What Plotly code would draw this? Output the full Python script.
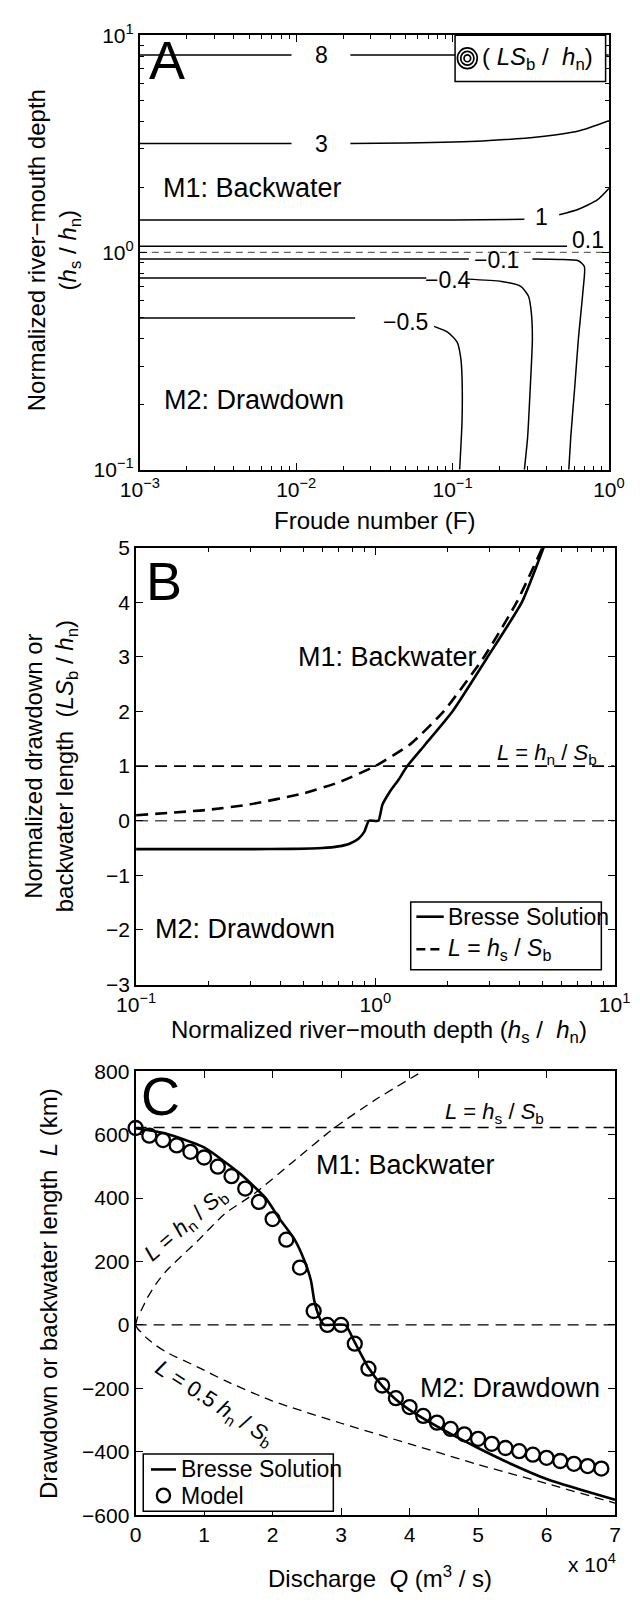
import math
import plotly.graph_objects as go

FONT = "Liberation Sans, Arial, Helvetica, sans-serif"
W, H = 640, 1603

# ---------------- Panel A : contours of LS_b / h_n ----------------
froude_c8 = [0.001, 0.00933, None, 0.0222, 1.0]
depth_c8 = [8.1, 8.1, None, 8.1, 8.1]
froude_c3 = [0.001, 0.00933, None, 0.0222, 0.0498, 0.155, 0.362, 0.638, 1.0]
depth_c3 = [3.17, 3.17, None, 3.17, 3.19, 3.26, 3.41, 3.62, 4.04]
froude_c1 = [0.001, 0.1, 0.288, None, 0.481, 0.638, 0.847, 1.0]
depth_c1 = [1.41, 1.41, 1.42, None, 1.49, 1.58, 1.75, 1.97]
froude_c01 = [0.001, 0.54]
depth_c01 = [1.067, 1.067]
froude_cm01 = [0.001, 0.127, None, 0.324, 0.481, 0.638, 0.697, 0.684, 0.638, 0.604, 0.570, 0.554]
depth_cm01 = [0.932, 0.932, None, 0.932, 0.929, 0.916, 0.861, 0.675, 0.400, 0.238, 0.141, 0.1]
froude_cm04 = [0.001, 0.0679, None, 0.123, 0.206, 0.273, 0.306, 0.319, 0.324, 0.314, 0.302, 0.288]
depth_cm04 = [0.762, 0.762, None, 0.754, 0.736, 0.698, 0.629, 0.529, 0.400, 0.238, 0.141, 0.1]
froude_cm05 = [0.001, 0.0238, None, 0.0762, 0.0929, 0.107, 0.113, 0.115, 0.115, 0.111]
depth_cm05 = [0.499, 0.499, None, 0.457, 0.430, 0.387, 0.325, 0.264, 0.168, 0.1]

contour_label_text = ["8", "3", "1", "0.1", "−0.1", "−0.4", "−0.5"]
contour_label_F = [0.0145, 0.0145, 0.372, 0.736, 0.191, 0.094, 0.0497]
contour_label_h = [8.1, 3.17, 1.45, 1.137, 0.923, 0.749, 0.478]

# ---------------- Panel B ----------------
depth_ratio_hs = [0.1, 0.2, 0.3, 0.5, 0.7, 1.0, 1.4, 1.93, 2.85, 3.9, 5.0]
norm_len_hs = [0.1, 0.2, 0.3, 0.5, 0.7, 1.0, 1.4, 2.0, 3.0, 4.0, 5.0]
depth_ratio_bresse = [0.1, 0.3, 0.45, 0.6, 0.7, 0.78, 0.85, 0.9, 0.94, 1.03, 1.07, 1.15,
                      1.25, 1.36, 1.62, 2.1, 2.95, 4.1, 5.05]
norm_len_bresse = [-0.52, -0.52, -0.515, -0.5, -0.47, -0.42, -0.33, -0.2, 0.0, 0.0, 0.29, 0.53,
                   0.75, 1.0, 1.4, 2.0, 3.0, 4.0, 5.0]

# ---------------- Panel C ----------------
Q_model = [0, 2000, 4000, 6000, 8000, 10000, 12000, 14000, 16000, 18000, 20000, 22000,
           24000, 26000, 28000, 30000, 32000, 34000, 36000, 38000, 40000, 42000, 44000,
           46000, 48000, 50000, 52000, 54000, 56000, 58000, 60000, 62000, 64000, 66000, 68000]
L_model = [621, 597, 583, 566, 546, 528, 499, 469, 430, 388, 334, 269, 181, 44, 0, 0,
           -59, -138, -191, -231, -259, -287, -308, -328, -345, -359, -375, -388, -398,
           -409, -419, -429, -438, -445, -453]
Q_bresse = [0, 4500, 10000, 15200, 19000, 21000, 23200, 24700, 25600, 26100, 26700, 27200,
            27600, 30600, 32000, 34000, 36000, 38000, 40000, 45000, 50000, 55000, 60000,
            65000, 70000]
L_bresse = [620, 603, 560, 478, 400, 335, 270, 200, 140, 75, 31, 8, 0, 0, -55, -135, -192,
            -235, -268, -332, -388, -440, -486, -520, -551]
Q_hn = [0, 300, 800, 1700, 3000, 4500, 9000, 13000, 17400, 23000, 29000, 35000, 41900]
L_hn = [0, 25, 45, 85, 130, 171, 264, 350, 415, 515, 621, 710, 800]
Q_half_hn = [0, 300, 800, 1700, 3000, 4500, 9000, 13000, 20000, 30000, 40000, 50000, 60000, 70000]
L_half_hn = [0, -12, -23, -43, -65, -86, -132, -175, -240, -310, -375, -440, -500, -562]
Q_hs = [0, 70000]
L_hs = [623, 623]
Q_zero = [0, 70000]
L_zero = [0, 0]


def px(x):
    return x / W


def py(y):
    return 1 - y / H


fig = go.Figure()
BLACK = "black"

# ---- Panel A traces
fig.add_trace(go.Scatter(x=[0.001, 1.0], y=[1.0, 1.0], mode="lines",
                         line=dict(color="#666666", width=1.3, dash="7px,5px"),
                         xaxis="x", yaxis="y", showlegend=False))
for fx, hy in [(froude_c8, depth_c8), (froude_c3, depth_c3), (froude_c1, depth_c1),
               (froude_c01, depth_c01), (froude_cm01, depth_cm01),
               (froude_cm04, depth_cm04), (froude_cm05, depth_cm05)]:
    fig.add_trace(go.Scatter(x=fx, y=hy, mode="lines", connectgaps=False,
                             line=dict(color=BLACK, width=1.5, shape="spline", smoothing=0.6),
                             xaxis="x", yaxis="y", showlegend=False))

# ---- Panel B traces
fig.add_trace(go.Scatter(x=[0.1, 10], y=[0, 0], mode="lines",
                         line=dict(color="#555555", width=1.5, dash="12px,7px"),
                         xaxis="x2", yaxis="y2", showlegend=False))
fig.add_trace(go.Scatter(x=[0.1, 10], y=[1, 1], mode="lines",
                         line=dict(color=BLACK, width=1.6, dash="12px,7px"),
                         xaxis="x2", yaxis="y2", showlegend=False))
fig.add_trace(go.Scatter(x=depth_ratio_hs, y=norm_len_hs, mode="lines",
                         line=dict(color=BLACK, width=2.6, dash="12px,7px", shape="spline", smoothing=0.5),
                         xaxis="x2", yaxis="y2", showlegend=False))
fig.add_trace(go.Scatter(x=depth_ratio_bresse, y=norm_len_bresse, mode="lines",
                         line=dict(color=BLACK, width=2.6, shape="spline", smoothing=0.5),
                         xaxis="x2", yaxis="y2", showlegend=False))

# ---- Panel C traces
fig.add_trace(go.Scatter(x=Q_zero, y=L_zero, mode="lines",
                         line=dict(color=BLACK, width=1.2, dash="11px,7px"),
                         xaxis="x3", yaxis="y3", showlegend=False))
fig.add_trace(go.Scatter(x=Q_hs, y=L_hs, mode="lines",
                         line=dict(color=BLACK, width=1.5, dash="11px,7px"),
                         xaxis="x3", yaxis="y3", showlegend=False))
fig.add_trace(go.Scatter(x=Q_hn, y=L_hn, mode="lines",
                         line=dict(color=BLACK, width=1.3, dash="9px,6px", shape="spline", smoothing=0.6),
                         xaxis="x3", yaxis="y3", showlegend=False))
fig.add_trace(go.Scatter(x=Q_half_hn, y=L_half_hn, mode="lines",
                         line=dict(color=BLACK, width=1.3, dash="9px,6px", shape="spline", smoothing=0.6),
                         xaxis="x3", yaxis="y3", showlegend=False))
fig.add_trace(go.Scatter(x=Q_bresse, y=L_bresse, mode="lines",
                         line=dict(color=BLACK, width=2.6, shape="spline", smoothing=0.5),
                         xaxis="x3", yaxis="y3", showlegend=False))
fig.add_trace(go.Scatter(x=Q_model, y=L_model, mode="markers",
                         marker=dict(symbol="circle-open", size=14, color=BLACK,
                                     line=dict(width=2.3, color=BLACK)),
                         cliponaxis=False,
                         xaxis="x3", yaxis="y3", showlegend=False))


def sup(e):
    return "10<sup>" + e + "</sup>"


def minor_log(lo, hi):
    return [k * 10 ** e for e in range(lo, hi) for k in range(2, 10)]


axis_common = dict(showgrid=False, zeroline=False, showline=True, linewidth=2,
                   linecolor=BLACK, mirror="allticks", ticks="inside", ticklen=7,
                   tickwidth=1.3, tickcolor=BLACK,
                   tickfont=dict(family=FONT, size=21, color=BLACK))
minor_style = dict(ticks="inside", ticklen=4, tickwidth=1, tickcolor=BLACK, showgrid=False)

layout = dict(
    width=W, height=H, margin=dict(l=0, r=0, t=0, b=0),
    paper_bgcolor="white", plot_bgcolor="white", showlegend=False,
    font=dict(family=FONT, color=BLACK),
    xaxis=dict(domain=[px(127), px(624)], anchor="y", type="log", range=[-3, 0],
               tickmode="array", tickvals=[0.001, 0.01, 0.1, 1],
               ticktext=[sup("−3"), sup("−2"), sup("−1"), sup("0")],
               minor=dict(tickmode="array", tickvals=minor_log(-3, 0), **minor_style), **axis_common),
    yaxis=dict(domain=[py(463), py(21.5)], anchor="x", type="log", range=[-1, 1],
               tickmode="array", tickvals=[0.1, 1, 10],
               ticktext=[sup("−1"), sup("0"), sup("1")],
               minor=dict(tickmode="array", tickvals=minor_log(-1, 1), **minor_style), **axis_common),
    xaxis2=dict(domain=[px(123), px(630)], anchor="y2", type="log", range=[-1, 1],
                tickmode="array", tickvals=[0.1, 1, 10],
                ticktext=[sup("−1"), sup("0"), sup("1")],
                minor=dict(tickmode="array", tickvals=minor_log(-1, 1), **minor_style), **axis_common),
    yaxis2=dict(domain=[py(986), py(542)], anchor="x2", range=[-3, 5],
                tickmode="array", tickvals=[-3, -2, -1, 0, 1, 2, 3, 4, 5], **axis_common),
    xaxis3=dict(domain=[px(122.5), px(630.5)], anchor="y3", range=[0, 70000],
                tickmode="array", tickvals=[0, 10000, 20000, 30000, 40000, 50000, 60000, 70000],
                ticktext=["0", "1", "2", "3", "4", "5", "6", "7"], **axis_common),
    yaxis3=dict(domain=[py(1525), py(1074)], anchor="x3", range=[-600, 800],
                tickmode="array", tickvals=[-600, -400, -200, 0, 200, 400, 600, 800], **axis_common),
)
fig.update_layout(**layout)

ann = []
shapes = []


def text(t, x, y, size, angle=0, xanchor="center", xref="paper", yref="paper"):
    ann.append(dict(text=t, x=x, y=y, xref=xref, yref=yref, showarrow=False,
                    textangle=angle, xanchor=xanchor, yanchor="middle",
                    font=dict(family=FONT, size=size, color=BLACK)))


# contour labels (data coordinates, log axes use log10)
for t, f, h in zip(contour_label_text, contour_label_F, contour_label_h):
    text(t, math.log10(f), math.log10(h), 23, xref="x", yref="y")

# panel letters
text("A", px(156), py(47), 54)
text("B", px(153), py(576), 54)
text("C", px(149), py(1099), 54)

# region labels
text("M1: Backwater", px(246), py(177), 27)
text("M2: Drawdown", px(248), py(392), 27)
text("M1: Backwater", px(389), py(653), 27)
text("M2: Drawdown", px(238), py(930), 27)
text("M1: Backwater", px(408), py(1169), 27)
text("M2: Drawdown", px(519), py(1396), 27)

# axis titles
text("Froude number (F)", px(376), py(515), 24)
text("Normalized river−mouth depth<br>(<i>h</i><sub>s</sub> / <i>h</i><sub>n</sub>)",
     px(36), py(240), 24, angle=-90)
text("Normalized drawdown or<br>backwater length  (<i>LS</i><sub>b</sub> / <i>h</i><sub>n</sub>)",
     px(33), py(764), 24, angle=-90)
text("Normalized river−mouth depth (<i>h</i><sub>s</sub> /  <i>h</i><sub>n</sub>)",
     px(380), py(1034), 24)
text("Drawdown or backwater length  <i>L</i> (km)", px(30), py(1300), 24, angle=-90)
text("Discharge  <i>Q</i> (m<sup>3</sup> / s)", px(381), py(1588), 24)
text("x 10<sup>4</sup>", px(606), py(1574), 21)

# line labels
text("<i>L</i> = <i>h</i><sub>n</sub> / <i>S</i><sub>b</sub>", px(558), py(752), 22)
text("<i>L</i> = <i>h</i><sub>s</sub> / <i>S</i><sub>b</sub>", px(503), py(1116), 22)
text("<i>L</i> = <i>h</i><sub>n</sub> / <i>S</i><sub>b</sub>", px(176), py(1230), 22, angle=-41)
text("<i>L</i> = 0.5 <i>h</i><sub>n</sub> / <i>S</i><sub>b</sub>", px(206), py(1412), 22, angle=33)

# legend A
shapes.append(dict(type="rect", xref="paper", yref="paper", x0=px(461), x1=px(620.5),
                   y0=py(68.5), y1=py(21.7), line=dict(color=BLACK, width=1.5),
                   fillcolor="white", layer="above"))
for r in [10.5, 7, 3.5]:
    shapes.append(dict(type="circle", xref="paper", yref="paper",
                       x0=px(474 - r), x1=px(474 + r), y0=py(45 + r), y1=py(45 - r),
                       line=dict(color=BLACK, width=1.7), layer="above"))
text("( <i>LS</i><sub>b</sub> /  <i>h</i><sub>n</sub>)", px(487), py(45), 24, xanchor="left")

# legend B
shapes.append(dict(type="rect", xref="paper", yref="paper", x0=px(414), x1=px(616),
                   y0=py(971), y1=py(902), line=dict(color=BLACK, width=1.5),
                   fillcolor="white", layer="above"))
shapes.append(dict(type="line", xref="paper", yref="paper", x0=px(420), x1=px(449),
                   y0=py(917), y1=py(917), line=dict(color=BLACK, width=2.6), layer="above"))
shapes.append(dict(type="line", xref="paper", yref="paper", x0=px(420), x1=px(449),
                   y0=py(950), y1=py(950), line=dict(color=BLACK, width=2.6, dash="9px,5px"),
                   layer="above"))
text("Bresse Solution", px(451), py(917), 23, xanchor="left")
text("<i>L</i> = <i>h</i><sub>s</sub> / <i>S</i><sub>b</sub>", px(451), py(950), 23, xanchor="left")

# legend C
shapes.append(dict(type="rect", xref="paper", yref="paper", x0=px(130.6), x1=px(332),
                   y0=py(1521), y1=py(1462.7), line=dict(color=BLACK, width=1.5),
                   fillcolor="white", layer="above"))
shapes.append(dict(type="line", xref="paper", yref="paper", x0=px(138.8), x1=px(165.3),
                   y0=py(1478.5), y1=py(1478.5), line=dict(color=BLACK, width=2.6), layer="above"))
shapes.append(dict(type="circle", xref="paper", yref="paper", x0=px(145), x1=px(159),
                   y0=py(1512), y1=py(1498), line=dict(color=BLACK, width=2.3), layer="above"))
text("Bresse Solution", px(168), py(1478.5), 23, xanchor="left")
text("Model", px(168), py(1505), 23, xanchor="left")

fig.update_layout(annotations=ann, shapes=shapes)
fig.write_html("out.html")
